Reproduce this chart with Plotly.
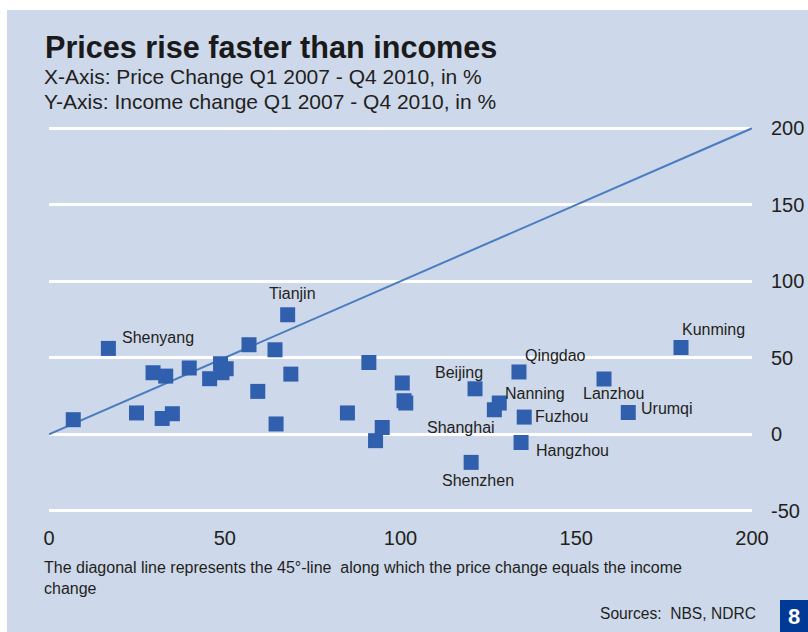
import plotly.graph_objects as go

# Price change (x) vs income change (y), Q1 2007 - Q4 2010, in %
price_change = [6.9, 16.9, 24.9, 29.6, 33.2, 32.2, 35.1, 39.9, 45.7, 48.8, 50.4, 49.2,
                59.4, 56.9, 64.3, 64.6, 67.9, 68.8, 84.9, 91.0, 92.9, 94.8, 100.5, 101.0,
                101.5, 121.2, 133.7, 128.1, 126.7, 135.2, 134.3, 120.1, 157.9, 164.8, 179.8]
income_change = [9.5, 56.1, 13.9, 40.2, 38.0, 10.3, 13.4, 43.3, 36.3, 46.1, 42.8, 40.2,
                 28.0, 58.5, 55.2, 6.7, 78.1, 39.3, 13.9, 46.9, -4.2, 4.4, 33.5, 21.9,
                 20.4, 29.7, 40.7, 20.4, 16.0, 11.2, -5.4, -18.4, 36.1, 14.2, 56.7]
city = ["", "Shenyang", "", "", "", "", "", "", "", "", "", "",
        "", "", "", "", "Tianjin", "", "", "", "", "", "", "",
        "", "Beijing", "Qingdao", "Nanning", "Shanghai", "Fuzhou", "Hangzhou", "Shenzhen",
        "Lanzhou", "Urumqi", "Kunming"]

# 45-degree reference line
diag_x = [0, 200]
diag_y = [0, 200]

x_ticks = [0, 50, 100, 150, 200]
y_ticks = [-50, 0, 50, 100, 150, 200]
y_tick_text = ["-50", "0", "50", "100", "150", "200"]

title = "Prices rise faster than incomes"
subtitle = ["X-Axis: Price Change Q1 2007 - Q4 2010, in %",
            "Y-Axis: Income change Q1 2007 - Q4 2010, in %"]
note = "The diagonal line represents the 45°-line  along which the price change equals the income<br>change"
source = "Sources:  NBS, NDRC"
page_no = "8"

# label placement (pixel offsets, anchor) per city
label_pos = {
    "Shenyang": (12, 11, "left"),
    "Tianjin": (5, 21, "center"),
    "Beijing": (10, 16, "right"),
    "Qingdao": (4, 16, "left"),
    "Nanning": (36, 10, "center"),
    "Shanghai": (3, -18, "right"),
    "Fuzhou": (9, 1, "left"),
    "Hangzhou": (13, -8, "left"),
    "Shenzhen": (7, -18, "center"),
    "Lanzhou": (9, -14, "center"),
    "Urumqi": (11, 4, "left"),
    "Kunming": (-1, 18, "left"),
}

W, H = 808, 632
ML, MR, MT, MB = 49, 56, 126, 119
PW, PH = W - ML - MR, H - MT - MB


def px(x):
    return (x - ML) / PW


def py(y):
    return (H - MB - y) / PH


BG = "#cdd8ea"
BLUE = "#305fae"
TXT = "#231f20"
SANS = "Liberation Sans, Arial, sans-serif"
NARROW = "Liberation Sans Narrow, Arial Narrow, Liberation Sans, sans-serif"

fig = go.Figure()
fig.add_trace(go.Scatter(x=diag_x, y=diag_y, mode="lines",
                         line=dict(color="#4a7cc0", width=2), hoverinfo="skip"))
fig.add_trace(go.Scatter(x=price_change, y=income_change, mode="markers",
                         marker=dict(symbol="square", size=15, color=BLUE,
                                     line=dict(width=0))))

annotations = []
for xv, yv, name in zip(price_change, income_change, city):
    if not name:
        continue
    dx, dy, anchor = label_pos[name]
    annotations.append(dict(x=xv, y=yv, xref="x", yref="y", text=name, showarrow=False,
                            xanchor=anchor, yanchor="middle", xshift=dx, yshift=dy,
                            font=dict(family=SANS, size=16, color=TXT)))

annotations.append(dict(x=px(43), y=py(47), xref="paper", yref="paper", text=f"<b>{title}</b>",
                        showarrow=False, xanchor="left", yanchor="middle",
                        font=dict(family=NARROW, size=30.6, color="#1a1a1a")))
for i, s in enumerate(subtitle):
    annotations.append(dict(x=px(42), y=py(76 + 25 * i), xref="paper", yref="paper", text=s,
                            showarrow=False, xanchor="left", yanchor="middle",
                            font=dict(family=NARROW, size=21, color=TXT)))
annotations.append(dict(x=px(42), y=py(578), xref="paper", yref="paper", text=note,
                        showarrow=False, xanchor="left", yanchor="middle", align="left",
                        font=dict(family=NARROW, size=16, color=TXT)))
annotations.append(dict(x=px(758), y=py(613), xref="paper", yref="paper", text=source,
                        showarrow=False, xanchor="right", yanchor="middle",
                        font=dict(family=NARROW, size=15.6, color=TXT)))
annotations.append(dict(x=px(794), y=py(616), xref="paper", yref="paper", text=f"<b>{page_no}</b>",
                        showarrow=False, xanchor="center", yanchor="middle",
                        font=dict(family=NARROW, size=22, color="white")))

shapes = [
    dict(type="rect", xref="paper", yref="paper", x0=px(7), x1=px(W + 2), y0=py(10), y1=py(H + 2),
         fillcolor=BG, line=dict(width=0), layer="below"),
    dict(type="rect", xref="paper", yref="paper", x0=px(780), x1=px(W + 2), y0=py(600), y1=py(H + 2),
         fillcolor="#003a96", line=dict(width=0), layer="above"),
]

fig.update_layout(
    width=W, height=H,
    margin=dict(l=ML, r=MR, t=MT, b=MB, autoexpand=False),
    paper_bgcolor="white", plot_bgcolor="rgba(0,0,0,0)",
    showlegend=False,
    annotations=annotations, shapes=shapes,
    xaxis=dict(range=[0, 200], tickvals=x_ticks, showgrid=False, zeroline=False,
               showline=False, ticks="", ticklabelstandoff=11, automargin=False,
               tickfont=dict(family=SANS, size=20, color=TXT)),
    yaxis=dict(range=[-51.5, 201.5], tickvals=y_ticks, ticktext=y_tick_text, side="right",
               showgrid=True, gridcolor="white", gridwidth=3, zeroline=False, showline=False,
               ticks="", ticklabelstandoff=18, automargin=False,
               tickfont=dict(family=SANS, size=20, color=TXT)),
)

fig.write_html("out.html")
